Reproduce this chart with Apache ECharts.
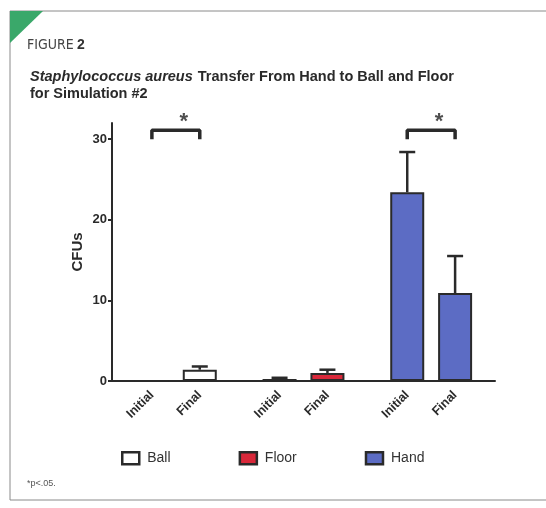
<!DOCTYPE html>
<html>
<head>
<meta charset="utf-8">
<script src="https://cdn.jsdelivr.net/npm/echarts@6/dist/echarts.min.js"></script>
<style>
  html, body { margin: 0; padding: 0; background: #fff; }
  #main { width: 546px; height: 508px; }
</style>
</head>
<body>
<div id="main"></div>
<script>
// 数据
var groups = ['Ball', 'Floor', 'Hand'];
var phases = ['Initial', 'Final'];
var slots = [2, 5, 10, 13, 18, 21];          // bar slot on the fine category axis
var slotCount = 24;
var means = [0, 1.4, 0.25, 1.0, 23.4, 10.9];
var uppers = [0, 1.8, 0.4, 1.4, 28.4, 15.5];  // mean + SD
var colors = ['#ffffff', '#d9283a', '#5c6cc4'];
var yTicks = [0, 10, 20, 30];
// 显著性括号 [from slot, to slot]
var brackets = [[2, 5], [18, 21]];
var bracketLow = 30, bracketHigh = 31.1;

var font = 'Liberation Sans, Arial, sans-serif';

;(function() {
  var cats = [];
  for (var i = 0; i < slotCount; i++) cats.push('');
  slots.forEach(function(s, i) { cats[s] = phases[i % 2]; });
  var isLabel = function(idx) { return cats[idx] !== ''; };

  var series = groups.map(function(g, gi) {
    var d = [];
    for (var i = 0; i < slotCount; i++) d.push('-');
    d[slots[gi * 2]] = means[gi * 2];
    d[slots[gi * 2 + 1]] = means[gi * 2 + 1];
    return {
      name: g,
      type: 'bar',
      stack: 'all',
      barWidth: 34,
      data: d,
      itemStyle: { color: colors[gi], borderColor: '#2a2a2a', borderWidth: 2 }
    };
  });

  series.push({
    type: 'custom',
    data: slots.map(function(s, i) { return [s, means[i], uppers[i]]; }).filter(function(d) { return d[2] > d[1]; }),
    encode: { x: 0, y: [1, 2] },
    z: 1,
    renderItem: function(params, api) {
      var lo = api.coord([api.value(0), api.value(1)]);
      var hi = api.coord([api.value(0), api.value(2)]);
      var st = { stroke: '#2a2a2a', lineWidth: 2.5 };
      return {
        type: 'group',
        children: [
          { type: 'line', shape: { x1: lo[0], y1: lo[1], x2: hi[0], y2: hi[1] }, style: st },
          { type: 'line', shape: { x1: hi[0] - 8, y1: hi[1], x2: hi[0] + 8, y2: hi[1] }, style: st }
        ]
      };
    }
  });

  brackets.forEach(function(b) {
    series.push({
      type: 'line',
      data: [[b[0], bracketLow], [b[0], bracketHigh], [b[1], bracketHigh], [b[1], bracketLow]],
      symbol: 'none',
      lineStyle: { color: '#2a2a2a', width: 3.5 },
      silent: true
    });
    series.push({
      type: 'scatter',
      data: [[(b[0] + b[1]) / 2, bracketHigh]],
      symbolSize: 0,
      clip: false,
      silent: true,
      label: { show: true, formatter: '*', position: 'top', distance: -3, fontSize: 22, fontWeight: 'bold', color: '#222', fontFamily: font }
    });
  });

  var myChart = echarts.init(document.getElementById('main'));
  var option = {
    backgroundColor: '#fff',
    animation: false,
    title: {
      left: 30, top: 68, padding: 0,
      text: '{i|Staphylococcus aureus} {b|Transfer From Hand to Ball and Floor}\n{b|for Simulation #2}',
      textStyle: {
        rich: {
          i: { fontFamily: font, fontSize: 14.5, fontWeight: 'bold', fontStyle: 'italic', color: '#2a2a2a', lineHeight: 16 },
          b: { fontFamily: font, fontSize: 14.5, fontWeight: 'bold', color: '#2a2a2a', lineHeight: 16 }
        }
      }
    },
    graphic: [
      { type: 'polyline', shape: { points: [[546, 11], [10, 11], [10, 500], [546, 500]] }, style: { stroke: '#8a8a8a', lineWidth: 1, fill: null } },
      { type: 'polygon', shape: { points: [[10, 11], [43, 11], [10, 43]] }, style: { fill: '#3aa86a' } },
      { type: 'text', left: 27, top: 38, style: { text: '{a|FIGURE} {n|2}', rich: {
        a: { fontFamily: 'DejaVu Sans Condensed, sans-serif', fontSize: 14, fontWeight: 'lighter', fill: '#444' },
        n: { fontFamily: font, fontSize: 14, fontWeight: 'bold', fill: '#333' }
      } } },
      { type: 'text', left: 27, top: 479, style: { text: '*p<.05.', fontFamily: font, fontSize: 9, fill: '#555' } }
    ],
    legend: {
      left: 121, top: 451, padding: 0,
      itemWidth: 17, itemHeight: 12,
      itemGap: 68,
      icon: 'rect',
      data: groups,
      itemStyle: { borderWidth: 2.5 },
      textStyle: { fontFamily: font, fontSize: 14, color: '#333', padding: [0, 0, 0, 3] }
    },
    grid: { left: 112, top: 123, width: 383, height: 258, containLabel: false },
    xAxis: {
      type: 'category',
      data: cats,
      axisLine: { lineStyle: { color: '#2a2a2a', width: 2 } },
      axisTick: { interval: function(i) { return isLabel(i); }, alignWithLabel: true, length: 4, lineStyle: { width: 2, color: '#2a2a2a' } },
      axisLabel: { interval: function(i) { return isLabel(i); }, rotate: 45, margin: 12, fontFamily: font, fontSize: 12.5, fontWeight: 'bold', color: '#2a2a2a' }
    },
    yAxis: {
      type: 'value',
      min: 0, max: 32, interval: 10,
      name: 'CFUs',
      nameLocation: 'middle',
      nameGap: 27,
      nameMoveOverlap: false,
      nameTextStyle: { fontFamily: font, fontSize: 15, fontWeight: 'bold', color: '#2a2a2a' },
      splitLine: { show: false },
      axisLine: { show: true, lineStyle: { color: '#2a2a2a', width: 2 } },
      axisTick: { show: true, length: 4, customValues: yTicks, lineStyle: { width: 2, color: '#2a2a2a' } },
      axisLabel: { customValues: yTicks, margin: 5, fontFamily: font, fontSize: 13, fontWeight: 'bold', color: '#2a2a2a' }
    },
    series: series
  };
  myChart.setOption(option);
})()
</script>
</body>
</html>
